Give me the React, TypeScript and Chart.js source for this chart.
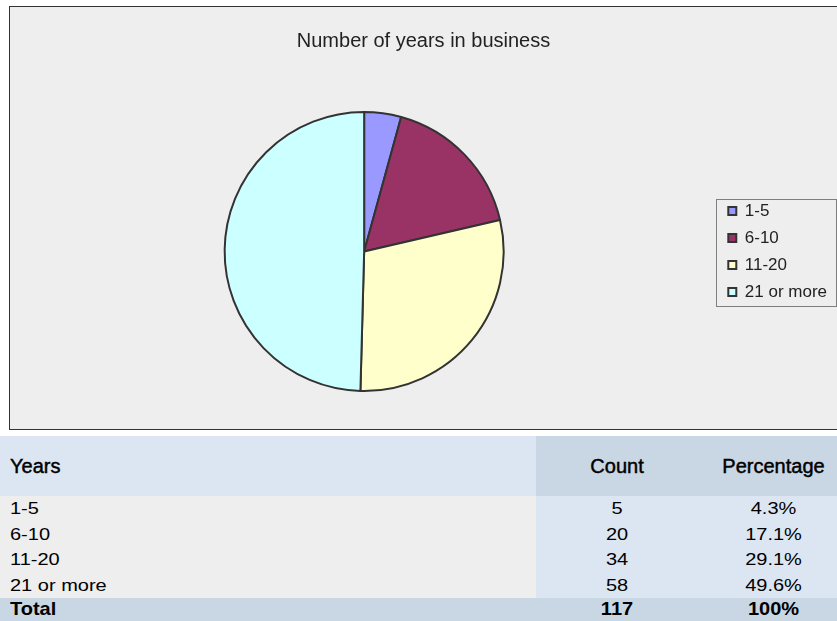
import React, { useEffect, useRef } from 'react';
import { Chart, registerables } from 'chart.js';

Chart.register(...registerables);

// ---- Data ----
const chartTitle = 'Number of years in business';
const categories = ['1-5', '6-10', '11-20', '21 or more'];
const counts = [5, 20, 34, 58];
const percentages = ['4.3%', '17.1%', '29.1%', '49.6%'];
const totalLabel = 'Total';
const totalCount = '117';
const totalPercentage = '100%';
const tableHeaders = ['Years', 'Count', 'Percentage'];
const sliceColors = ['#9999ff', '#993366', '#ffffcc', '#ccffff'];

const FONT = '"Liberation Sans", Arial, Helvetica, sans-serif';

const framePlugin = {
  id: 'frame',
  beforeDraw(chart: any) {
    const ctx = chart.ctx;
    ctx.save();
    ctx.fillStyle = '#eeeeee';
    ctx.fillRect(9, 6, chart.width, 423);
    ctx.strokeStyle = '#333333';
    ctx.lineWidth = 1;
    ctx.strokeRect(9.5, 6.5, chart.width + 10, 423);
    ctx.restore();
  },
};

const legendBoxPlugin = {
  id: 'legendBox',
  afterDraw(chart: any) {
    const legend = chart.legend;
    if (!legend || !legend.legendHitBoxes || !legend.legendHitBoxes.length) return;
    const hb = legend.legendHitBoxes;
    const first = hb[0];
    const last = hb[hb.length - 1];
    const ctx = chart.ctx;
    const x0 = Math.round(legend.left) - 2 + 0.5;
    const x1 = chart.width - 0.5;
    const y0 = Math.round(first.top) - 4 + 0.5;
    const y1 = Math.round(last.top + last.height) + 5 + 0.5;
    ctx.save();
    ctx.strokeStyle = '#7f7f7f';
    ctx.lineWidth = 1;
    ctx.strokeRect(x0, y0, x1 - x0, y1 - y0);
    ctx.restore();
  },
};

function PieChart() {
  const ref = useRef<HTMLCanvasElement | null>(null);
  useEffect(() => {
    if (!ref.current) return;
    const chart = new Chart(ref.current, {
      type: 'pie',
      data: {
        labels: categories,
        datasets: [
          {
            data: counts,
            backgroundColor: sliceColors,
            borderColor: '#333333',
            borderWidth: 2,
          },
        ],
      },
      options: {
        responsive: false,
        devicePixelRatio: 1,
        animation: false,
        layout: { padding: { left: 10, right: 0, top: 0, bottom: 38 } },
        plugins: {
          title: {
            display: true,
            text: chartTitle,
            color: '#222222',
            font: { family: FONT, size: 20, weight: 'normal', lineHeight: 1.2 },
            padding: { top: 29.5, bottom: 57.5 },
          },
          legend: {
            display: true,
            position: 'right',
            fullSize: false,
            align: 'center',
            labels: {
              boxWidth: 8,
              boxHeight: 8,
              padding: 10,
              color: '#222222',
              font: { family: FONT, size: 17 },
            },
          },
          tooltip: { enabled: false },
        },
      },
      plugins: [framePlugin, legendBoxPlugin],
    } as any);
    return () => chart.destroy();
  }, []);
  return <canvas ref={ref} width={837} height={430} style={{ display: 'block', width: 837, height: 430 }} />;
}

const LIGHT = '#dce6f2';
const DARK = '#c9d6e4';
const GRAY = '#eeeeee';

const squish = (s: number): React.CSSProperties => ({
  display: 'inline-block',
  lineHeight: '20px',
  transform: `scaleY(${s})`,
  transformOrigin: 'center center',
  whiteSpace: 'nowrap',
});

function DataTable() {
  const cellBase: React.CSSProperties = {
    padding: 0,
    fontFamily: FONT,
    fontSize: 20,
    color: '#000',
    verticalAlign: 'middle',
    whiteSpace: 'nowrap',
  };
  const headStyle: React.CSSProperties = { WebkitTextStroke: '0.45px #000' } as any;
  return (
    <table
      style={{
        borderCollapse: 'collapse',
        borderSpacing: 0,
        tableLayout: 'fixed',
        width: 849,
        position: 'absolute',
        left: 0,
        top: 436,
      }}
    >
      <colgroup>
        <col style={{ width: 536 }} />
        <col style={{ width: 162 }} />
        <col style={{ width: 151 }} />
      </colgroup>
      <tbody>
        <tr style={{ height: 60 }}>
          <td style={{ ...cellBase, background: LIGHT, paddingLeft: 10, textAlign: 'left' }}>
            <span style={{ ...squish(1), ...headStyle }}>{tableHeaders[0]}</span>
          </td>
          <td style={{ ...cellBase, background: DARK, textAlign: 'center' }}>
            <span style={{ ...squish(1), ...headStyle }}>{tableHeaders[1]}</span>
          </td>
          <td style={{ ...cellBase, background: DARK, textAlign: 'center' }}>
            <span style={{ ...squish(1), ...headStyle }}>{tableHeaders[2]}</span>
          </td>
        </tr>
        {categories.map((c, i) => (
          <tr key={c} style={{ height: 25.5 }}>
            <td style={{ ...cellBase, background: GRAY, paddingLeft: 10, textAlign: 'left' }}>
              <span style={squish(0.83)}>{c}</span>
            </td>
            <td style={{ ...cellBase, background: LIGHT, textAlign: 'center' }}>
              <span style={squish(0.83)}>{counts[i]}</span>
            </td>
            <td style={{ ...cellBase, background: LIGHT, textAlign: 'center' }}>
              <span style={squish(0.83)}>{percentages[i]}</span>
            </td>
          </tr>
        ))}
        <tr style={{ height: 22 }}>
          <td style={{ ...cellBase, background: DARK, paddingLeft: 10, textAlign: 'left', fontWeight: 'bold' }}>
            <span style={squish(0.92)}>{totalLabel}</span>
          </td>
          <td style={{ ...cellBase, background: DARK, textAlign: 'center', fontWeight: 'bold' }}>
            <span style={squish(0.92)}>{totalCount}</span>
          </td>
          <td style={{ ...cellBase, background: DARK, textAlign: 'center', fontWeight: 'bold' }}>
            <span style={squish(0.92)}>{totalPercentage}</span>
          </td>
        </tr>
      </tbody>
    </table>
  );
}

export default function App() {
  return (
    <div
      style={{
        position: 'absolute',
        left: 0,
        top: 0,
        width: 837,
        height: 621,
        overflow: 'hidden',
        background: '#ffffff',
      }}
    >
      <PieChart />
      <DataTable />
    </div>
  );
}
